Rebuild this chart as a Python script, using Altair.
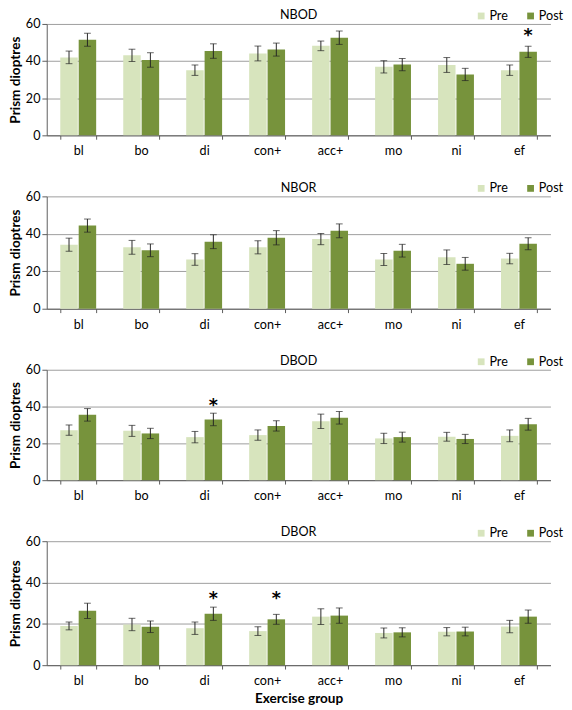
import altair as alt
import pandas as pd

groups = ["bl", "bo", "di", "con+", "acc+", "mo", "ni", "ef"]
phases = ["Pre", "Post"]
panels = ["NBOD", "NBOR", "DBOD", "DBOR"]

nbod_pre = [42.0, 43.1, 35.1, 44.1, 48.2, 36.9, 37.9, 35.1]
nbod_pre_err = [3.4, 3.3, 2.8, 4.0, 2.6, 3.3, 4.0, 2.8]
nbod_post = [51.5, 40.6, 45.4, 46.2, 52.6, 38.1, 32.8, 45.0]
nbod_post_err = [3.5, 3.9, 3.9, 3.5, 3.6, 3.3, 3.3, 3.0]

nbor_pre = [34.2, 32.8, 26.3, 32.8, 37.2, 26.3, 27.5, 26.8]
nbor_pre_err = [3.5, 3.7, 3.1, 3.5, 3.0, 3.2, 3.9, 2.8]
nbor_post = [44.4, 31.2, 35.8, 37.9, 41.6, 31.0, 24.0, 34.7]
nbor_post_err = [3.5, 3.4, 3.7, 3.8, 3.7, 3.4, 3.4, 3.2]

dbod_pre = [27.2, 26.8, 23.4, 24.5, 32.0, 22.7, 23.6, 24.1]
dbod_pre_err = [2.8, 3.0, 3.1, 2.8, 3.9, 2.8, 2.4, 3.2]
dbod_post = [35.5, 25.4, 33.0, 29.5, 33.9, 23.4, 22.4, 30.4]
dbod_post_err = [3.4, 2.8, 3.4, 2.8, 3.4, 2.7, 2.5, 3.2]

dbor_pre = [19.0, 19.7, 17.9, 16.5, 23.5, 15.6, 16.2, 18.7]
dbor_pre_err = [1.9, 3.0, 3.0, 2.1, 3.8, 2.4, 2.0, 3.0]
dbor_post = [26.3, 18.6, 24.9, 22.2, 24.0, 15.9, 16.3, 23.5]
dbor_post_err = [3.7, 2.8, 3.2, 2.4, 3.7, 2.2, 2.1, 3.2]

# significance markers (panel, group, level)
star_panel = ["NBOD", "DBOD", "DBOR", "DBOR"]
star_group = ["ef", "di", "di", "con+"]
star_level = [56.0, 43.0, 34.2, 34.2]

series = {
    "NBOD": (nbod_pre, nbod_pre_err, nbod_post, nbod_post_err),
    "NBOR": (nbor_pre, nbor_pre_err, nbor_post, nbor_post_err),
    "DBOD": (dbod_pre, dbod_pre_err, dbod_post, dbod_post_err),
    "DBOR": (dbor_pre, dbor_pre_err, dbor_post, dbor_post_err),
}

rows = []
for p in panels:
    pre, pre_e, post, post_e = series[p]
    for i, g in enumerate(groups):
        rows.append(dict(panel=p, group=g, phase="Pre", value=pre[i],
                         lo=pre[i] - pre_e[i], hi=pre[i] + pre_e[i]))
        rows.append(dict(panel=p, group=g, phase="Post", value=post[i],
                         lo=post[i] - post_e[i], hi=post[i] + post_e[i]))
df = pd.DataFrame(rows)
stars = pd.DataFrame(dict(panel=star_panel, group=star_group,
                          phase=["Post"] * len(star_panel), level=star_level,
                          mark=["*"] * len(star_panel)))

PRE_C = "#D7E4BD"
POST_C = "#77933C"
FONT = "Lato"
YTITLE = "Prism dioptres"
W = 520

heights = {"NBOD": 115, "NBOR": 116, "DBOD": 114, "DBOR": 128}


def make_panel(name, last):
    d = df[df.panel == name]
    s = stars[stars.panel == name]
    xaxis = alt.Axis(
        title="Exercise group" if last else None,
        tickBand="extent", tickSize=4, tickColor="#595959",
        domainColor="#595959", labelAngle=0, labelPadding=6,
        labelFontSize=13, labelColor="#000000", titleFontSize=14,
        titleFontWeight="bold", titleColor="#000000", titlePadding=5,
        grid=False,
    )
    xenc = alt.X("group:N", sort=groups,
                 scale=alt.Scale(domain=groups, paddingInner=0.43, paddingOuter=0.215),
                 axis=xaxis)
    xoff = alt.XOffset("phase:N", scale=alt.Scale(domain=phases, paddingInner=0.05))
    yaxis = alt.Axis(
        values=[0, 20, 40, 60], tickCount=4, grid=True, gridColor="#9a9a9a",
        domainColor="#595959", tickColor="#595959", tickSize=5,
        labelPadding=2, labelFontSize=13, labelColor="#000000",
        titleFontSize=14, titleFontWeight="bold", titleColor="#000000",
        titlePadding=3,
    )
    yscale = alt.Scale(domain=[0, 60], nice=False)

    base = alt.Chart(d).encode(x=xenc, xOffset=xoff)
    bars = base.mark_bar().encode(
        y=alt.Y("value:Q", scale=yscale, axis=yaxis, title=YTITLE),
        color=alt.Color(
            "phase:N",
            scale=alt.Scale(domain=phases, range=[PRE_C, POST_C]),
            legend=alt.Legend(
                title=None, orient="none", direction="horizontal",
                legendX=442, legendY=-15, symbolType="square",
                symbolSize=49, symbolStrokeWidth=0, labelFontSize=13,
                labelColor="#000000", columnPadding=16, labelOffset=2,
                padding=0,
            ),
        ),
    )
    rules = base.mark_rule(color="#222222", strokeWidth=1).encode(
        y=alt.Y("lo:Q", scale=yscale, title=YTITLE), y2="hi:Q")
    cap_hi = base.mark_tick(color="#222222", size=7, thickness=1).encode(
        y=alt.Y("hi:Q", scale=yscale, title=YTITLE))
    cap_lo = base.mark_tick(color="#222222", size=7, thickness=1).encode(
        y=alt.Y("lo:Q", scale=yscale, title=YTITLE))
    label = alt.Chart(pd.DataFrame({"name": [name]})).mark_text(
        font=FONT, fontSize=13, color="#000000", baseline="middle",
        align="center",
    ).encode(x=alt.value(W / 2), y=alt.value(-9), text="name:N")
    layers = [bars, rules, cap_hi, cap_lo, label]
    if len(s):
        star = alt.Chart(s).mark_text(
            font="DejaVu Sans", fontSize=18, fontWeight="bold", color="#000000",
            baseline="alphabetic", dy=10,
        ).encode(x=xenc, xOffset=xoff,
                 y=alt.Y("level:Q", scale=yscale, title=YTITLE), text="mark:N")
        layers.append(star)
    return alt.layer(*layers).properties(width=W, height=heights[name])


chart = alt.vconcat(
    *[make_panel(p, p == "DBOR") for p in panels],
    spacing=63, bounds="flush",
).resolve_scale(color="independent").properties(
    padding={"top": -10, "left": 0, "right": 0, "bottom": 0}
).configure(font=FONT).configure_view(stroke=None)

chart.save("out.html", embed_options={"renderer": "svg", "actions": False})
